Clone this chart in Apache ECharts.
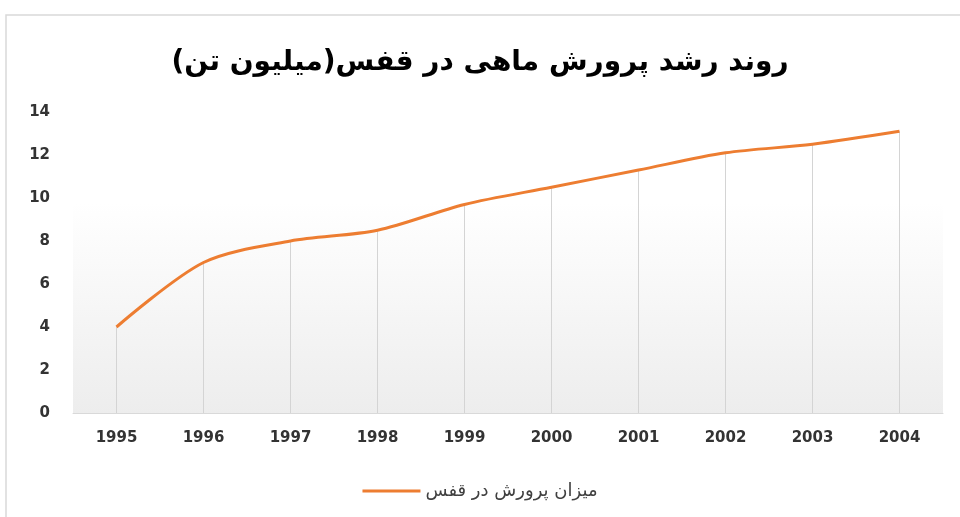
<!DOCTYPE html>
<html>
<head>
<meta charset="utf-8">
<script src="https://cdn.jsdelivr.net/npm/echarts@6/dist/echarts.min.js"></script>
<style>
  html, body { margin: 0; padding: 0; background: #fff; }
  #main { width: 960px; height: 517px; }
</style>
</head>
<body>
<div id="main"></div>
<script>
// سال ها و مقادیر (میلیون تن)
const years = ['1995', '1996', '1997', '1998', '1999', '2000', '2001', '2002', '2003', '2004']
const cageValues = [4, 7, 8, 8.5, 9.7, 10.5, 11.3, 12.1, 12.5, 13.1]
const yTicks = [0, 2, 4, 6, 8, 10, 12, 14]

const seriesName = 'میزان پرورش در قفس'
const titleText = 'روند رشد پرورش ماهی در قفس(میلیون تن)'

const chart = echarts.init(document.getElementById('main'))
chart.setOption({
  animation: false,
  title: {
    text: titleText,
    left: 'center',
    top: 44,
    textStyle: {
      fontFamily: 'DejaVu Sans',
      fontSize: 28,
      fontWeight: 'bold',
      color: '#000'
    }
  },
  graphic: [{
    type: 'rect',
    shape: { x: 6, y: 15, width: 960, height: 520 },
    style: { fill: 'none', stroke: '#d9d9d9', lineWidth: 1.5 },
    z: -10
  }],
  legend: {
    bottom: 12,
    left: 'center',
    data: [seriesName],
    itemWidth: 58,
    itemHeight: 3,
    itemGap: 6,
    icon: 'rect',
    textStyle: { fontFamily: 'DejaVu Sans', fontSize: 18, color: '#404040' }
  },
  grid: {
    left: 73,
    right: 17,
    top: 112,
    bottom: 104,
    show: true,
    borderWidth: 0,
    backgroundColor: {
      type: 'linear', x: 0, y: 0, x2: 0, y2: 1,
      colorStops: [
        { offset: 0, color: '#ffffff' },
        { offset: 0.3, color: '#ffffff' },
        { offset: 1, color: '#ededed' }
      ]
    }
  },
  xAxis: {
    type: 'category',
    data: years,
    boundaryGap: true,
    axisLine: { lineStyle: { color: '#d9d9d9', width: 1 } },
    axisTick: { show: false },
    axisLabel: {
      margin: 18,
      fontFamily: 'DejaVu Sans',
      fontSize: 15,
      fontWeight: 'bold',
      color: '#333'
    }
  },
  yAxis: {
    type: 'value',
    min: yTicks[0],
    max: yTicks[yTicks.length - 1],
    interval: 2,
    axisLine: { show: false },
    axisTick: { show: false },
    splitLine: { show: false },
    axisLabel: {
      margin: 23,
      fontFamily: 'DejaVu Sans',
      fontSize: 15,
      fontWeight: 'bold',
      color: '#333'
    }
  },
  series: [
    {
      // خطوط عمودی از نقطه تا محور
      name: 'drop',
      type: 'bar',
      data: cageValues,
      barWidth: 1,
      itemStyle: { color: '#d4d4d4' },
      silent: true,
      z: 1
    },
    {
      name: seriesName,
      type: 'line',
      data: cageValues,
      smooth: 0.3,
      symbol: 'none',
      lineStyle: { color: '#ed7d31', width: 3 },
      itemStyle: { color: '#ed7d31' },
      z: 3
    }
  ]
})
</script>
</body>
</html>
